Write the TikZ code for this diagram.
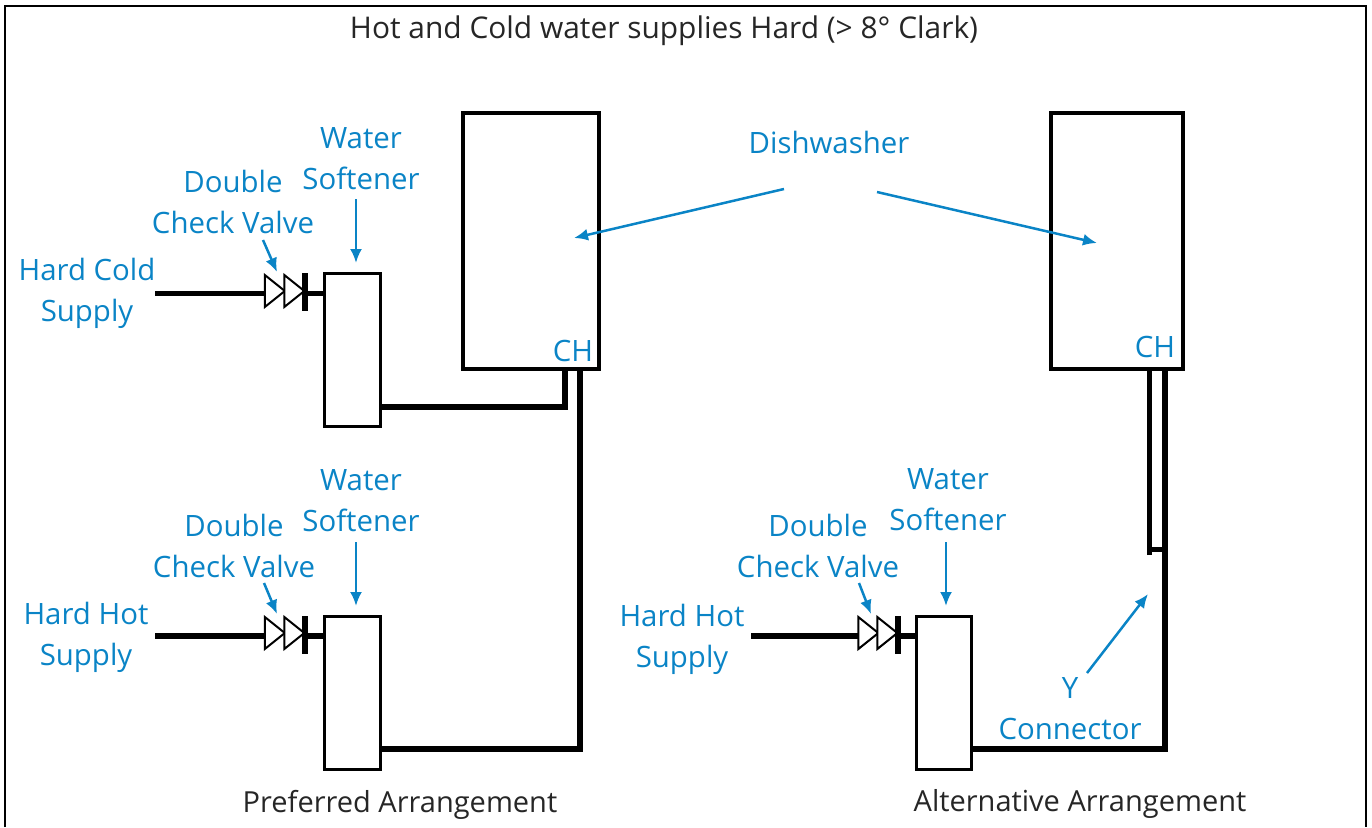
\documentclass[tikz,border=0pt]{standalone}
\usepackage{fontspec}
\setmainfont{Open Sans}
\usetikzlibrary{arrows.meta,shapes.geometric}
\definecolor{callout}{HTML}{0A84C6}
\tikzset{
    tank/.style={draw, line width=3.5pt, rectangle, inner sep=0pt},
    softener/.style={tank, line width=3.2pt, minimum width=56pt, minimum height=153pt},
    valve/.style={draw, fill=white, line width=2pt, isosceles triangle, isosceles triangle apex angle=60,
        isosceles triangle stretches, minimum height=20pt, minimum width=32pt, inner sep=0pt},
    pipe/.style={line width=5.8pt},
    stopbar/.style={line width=6pt},
    lbl/.style={text=callout, font=\fontsize{29.4}{41}\selectfont, align=center, inner sep=0pt},
    blk/.style={text=black!85, font=\fontsize{29}{41}\selectfont, inner sep=0pt},
    callarrow/.style={callout, line width=2.5pt, -{Latex[length=14pt,width=12pt]}}
}
\begin{document}
\begin{tikzpicture}[x=1pt,y=-1pt]
    \useasboundingbox (0,0) rectangle (1372,827);

    % The frame, open at the bottom
    \coordinate (frameA) at (5,827);
    \coordinate (frameB) at (5,6);
    \coordinate (frameC) at (1366,6);
    \coordinate (frameD) at (1366,827);
    \draw[line width=2.5pt] (frameA) -- (frameB) -- (frameC) -- (frameD);
    \node[blk, font=\fontsize{29.9}{41}\selectfont] (title) at (664,30.5) {Hot and Cold water supplies Hard (> 8° Clark)};

    % Dishwashers
    \node[tank, minimum width=136pt, minimum height=256pt] (dishL) at (531,241) {};
    \node[tank, minimum width=132pt, minimum height=256pt] (dishR) at (1117,241) {};
    \node[lbl] (chL) at (573,351) {CH};
    \node[lbl] (chR) at (1155,347) {CH};
    \node[lbl] (dishText) at (829,142) {Dishwasher};

    % Softeners
    \node[softener] (softA) at (352.5,350) {};
    \node[softener] (softB) at (352.5,693) {};
    \node[softener, minimum width=55pt] (softC) at (944,693) {};

    % Cold supply, preferred
    \coordinate (coldIn) at (155,293.5);
    \node[valve] (valveA1) at (272.5,291) {};
    \node[valve] (valveA2) at (292,291) {};
    \coordinate (barA1) at (305,273);
    \coordinate (barA2) at (305,311);
    \coordinate (barA) at (305,293.5);
    \draw[pipe] (coldIn) -- (264,293.5);
    \draw[pipe] (barA) -- (324,293.5);
    \draw[stopbar] (barA1) -- (barA2);
    \coordinate (outA) at (381,407);
    \coordinate (cornerA) at (565,407);
    \coordinate (inA) at (565,369);
    \draw[pipe] (outA) -- (cornerA) -- (inA);

    % Hot supply, preferred
    \coordinate (hotIn) at (155,636);
    \node[valve] (valveB1) at (272.5,633) {};
    \node[valve] (valveB2) at (292,633) {};
    \coordinate (barB1) at (305,616);
    \coordinate (barB2) at (305,654);
    \coordinate (barB) at (305,636);
    \draw[pipe] (hotIn) -- (264,636);
    \draw[pipe] (barB) -- (324,636);
    \draw[stopbar] (barB1) -- (barB2);
    \coordinate (outB) at (381,749);
    \coordinate (cornerB) at (580,749);
    \coordinate (inB) at (580,369);
    \draw[pipe] (outB) -- (cornerB) -- (inB);

    % Hot supply, alternative
    \coordinate (altIn) at (751,636);
    \node[valve] (valveC1) at (866,633) {};
    \node[valve] (valveC2) at (885,633) {};
    \coordinate (barC1) at (898,616);
    \coordinate (barC2) at (898,654);
    \coordinate (barC) at (898,636);
    \draw[pipe] (altIn) -- (858,636);
    \draw[pipe] (barC) -- (916,636);
    \draw[stopbar] (barC1) -- (barC2);
    \coordinate (outC) at (971,749);
    \coordinate (cornerC) at (1165,749);
    \coordinate (inC) at (1165,369);
    \draw[pipe] (outC) -- (cornerC) -- (inC);

    % Y connector branch
    \coordinate (teeC) at (1165,549.5);
    \coordinate (branchC) at (1149.5,549.5);
    \coordinate (branchEnd) at (1149.5,555);
    \coordinate (inD) at (1149.5,369);
    \draw[pipe] (teeC) -- (branchC);
    \draw[pipe] (branchEnd) -- (inD);

    % Labels
    \node[lbl] (coldText) at (87,293) {Hard Cold\\Supply};
    \node[lbl] (hotText) at (86,637) {Hard Hot\\Supply};
    \node[lbl] (altText) at (682,639) {Hard Hot\\Supply};
    \node[lbl] (checkA) at (233,202) {Double\\Check Valve};
    \node[lbl] (checkB) at (234,546) {Double\\Check Valve};
    \node[lbl] (checkC) at (818,546) {Double\\Check Valve};
    \node[lbl] (softTextA) at (361,159) {Water\\Softener};
    \node[lbl] (softTextB) at (361,501) {Water\\Softener};
    \node[lbl] (softTextC) at (948,500) {Water\\Softener};
    \node[lbl] (yText) at (1070,708.5) {Y\\Connector};
    \node[blk] (prefText) at (400,805) {Preferred Arrangement};
    \node[blk] (altArrText) at (1080,804) {Alternative Arrangement};

    % Callout arrows
    \coordinate (dishFromL) at (784,189);
    \coordinate (dishToL) at (574,238);
    \coordinate (dishFromR) at (877,192);
    \coordinate (dishToR) at (1097,243);
    \draw[callarrow] (dishFromL) -- (dishToL);
    \draw[callarrow] (dishFromR) -- (dishToR);
    \coordinate (softToA) at (356,263);
    \coordinate (softToB) at (356,606);
    \coordinate (softToC) at (946,606);
    \coordinate (softFromA) at (356,199);
    \coordinate (softFromB) at (356,542);
    \coordinate (softFromC) at (946,542);
    \draw[callarrow] (softFromA) -- (softToA);
    \draw[callarrow] (softFromB) -- (softToB);
    \draw[callarrow] (softFromC) -- (softToC);
    \coordinate (checkFromA) at (263,240);
    \coordinate (checkToA) at (277,272);
    \coordinate (checkFromB) at (264,583);
    \coordinate (checkToB) at (277,614);
    \coordinate (checkFromC) at (859,583);
    \coordinate (checkToC) at (871,614);
    \draw[callarrow] (checkFromA) -- (checkToA);
    \draw[callarrow] (checkFromB) -- (checkToB);
    \draw[callarrow] (checkFromC) -- (checkToC);
    \coordinate (yFrom) at (1087,673);
    \coordinate (yTo) at (1148,594);
    \draw[callarrow] (yFrom) -- (yTo);
\end{tikzpicture}
\end{document}
